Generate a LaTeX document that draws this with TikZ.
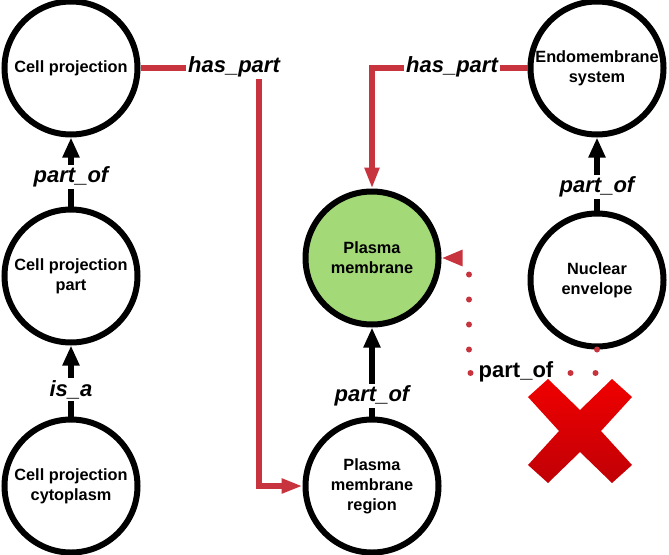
\documentclass[tikz,border=0pt]{standalone}
\usepackage{fontspec}
\setmainfont{Liberation Sans}
\usetikzlibrary{arrows.meta}
\definecolor{cred}{RGB}{200,52,62}
\definecolor{cgreen}{RGB}{163,217,119}
\definecolor{xtop}{RGB}{240,0,0}
\definecolor{xbot}{RGB}{192,0,6}
\tikzset{
  term/.style={circle,draw=black,line width=6pt,fill=white,minimum size=133pt,inner sep=0pt,
    align=center,font=\fontsize{16.3}{20}\selectfont\bfseries},
  rel/.style={fill=white,inner sep=2pt,font=\fontsize{22}{26}\selectfont\bfseries\itshape},
  relup/.style={fill=white,inner sep=2pt,font=\fontsize{22}{26}\selectfont\bfseries},
  blackarrow/.style={line width=6pt,draw=black,-{Triangle[width=16pt,length=20pt]}},
  redarrow/.style={line width=6pt,draw=cred,-{Triangle[width=14pt,length=21pt]}},
  dotarrow/.style={line width=6pt,draw=cred,line cap=round,dash pattern=on 0pt off 25pt,
    -{Triangle[width=15pt,length=21pt]}},
}
\begin{document}
\begin{tikzpicture}[x=1pt,y=-1pt]
\useasboundingbox (0,0) rectangle (669,554);
% nodes
\node[term] (cp)  at (71,68)  {Cell projection};
\node[term] (cpp) at (71,276) {Cell projection\\part};
\node[term] (cpc) at (71,486) {Cell projection\\cytoplasm};
\node[term,fill=cgreen] (pm) at (372,258) {Plasma\\membrane};
\node[term] (pmr) at (372,486) {Plasma\\membrane\\region};
\node[term] (ems) at (597,68) {Endomembrane\\system};
\node[term] (ne)  at (597,280) {Nuclear\\envelope};
% black relations
\draw[blackarrow] (cpp.north) -- node[rel,pos=0.43] {part\_of} (cp.south);
\draw[blackarrow] (cpc.north) -- node[rel,pos=0.38] {is\_a} (cpp.south);
\draw[blackarrow] (pmr.north) -- node[rel,pos=0.23] {part\_of} (pm.south);
\draw[blackarrow] (ne.north) -- node[rel,pos=0.32] {part\_of} (ems.south);
% red has_part relations
\coordinate (k1) at (259,68);
\coordinate (k2) at (372,68);
\draw[redarrow] (cp.east) -- (k1) |- (pmr.west);
\node[rel] (hp1) at (234,67) {has\_part};
\draw[redarrow] (ems.west) -- (k2) -- (pm.north);
\node[rel] (hp2) at (452,67) {has\_part};
% dotted (rejected) relation
\coordinate (d1) at (597,373);
\coordinate (d2) at (469,373);
\coordinate (d3) at (469,258);
\draw[dotarrow] (ne.south) -- (d1) -- (d2) -- (d3) -- (pm.east);
\node[relup,inner sep=3pt] (po) at (516,372) {part\_of};
% red cross
\shade[top color=xtop,bottom color=xbot]
  (528,397) -- (548,379) -- (580,410) -- (612,379) -- (632,397) -- (601,431)
  -- (632,465) -- (612,483) -- (580,452) -- (548,483) -- (528,465) -- (559,431) -- cycle;
\end{tikzpicture}
\end{document}
